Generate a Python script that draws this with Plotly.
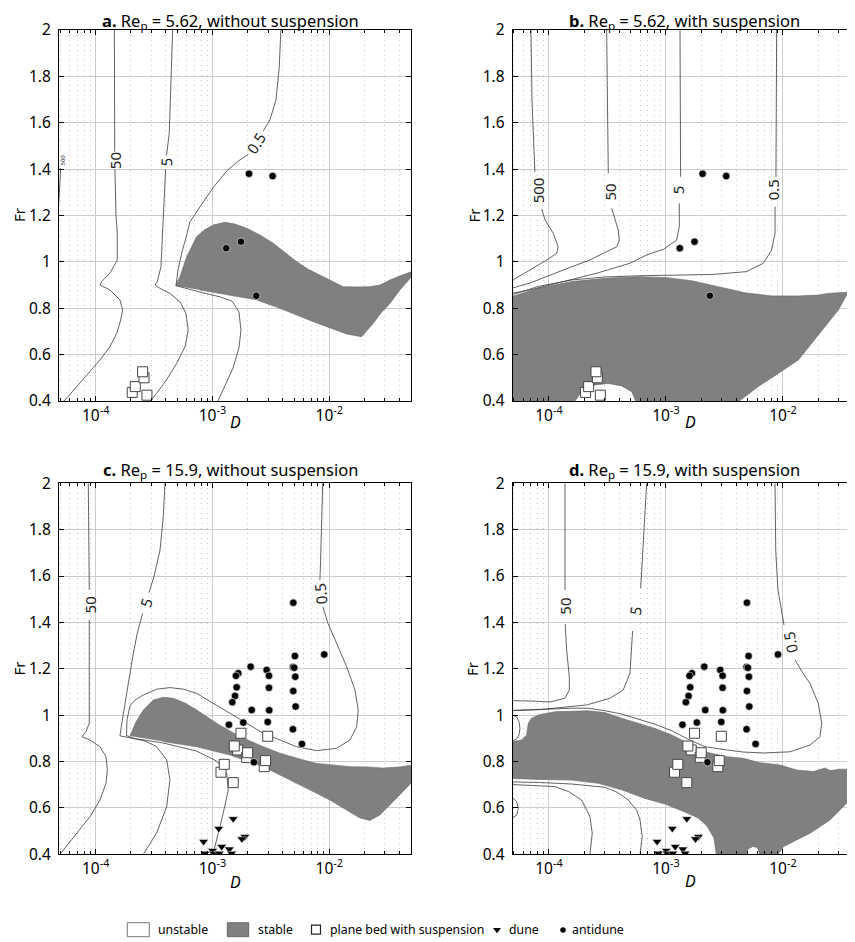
import numpy as np
import plotly.graph_objects as go

# ---------------- experimental points ----------------
# Re_p = 5.62 (panels a, b)
ant1_logD = [-2.687, -2.485, -2.882, -2.756, -2.625]
ant1_Fr = [1.380, 1.370, 1.059, 1.087, 0.854]
pb1_logD = [-3.561, -3.687, -3.661, -3.586, -3.598]
pb1_Fr = [0.425, 0.437, 0.462, 0.500, 0.526]

# Re_p = 15.9 (panels c, d)
ant2_logD = [-2.308, -2.294, -2.043, -2.673, -2.536, -2.516, -2.779, -2.799, -2.311, -2.300,
             -2.291, -2.793, -2.308, -2.516, -2.807, -2.830, -2.288, -2.664, -2.514, -2.736,
             -2.527, -2.859, -2.311, -2.234, -2.645]
ant2_Fr = [1.485, 1.255, 1.262, 1.209, 1.195, 1.170, 1.181, 1.170, 1.208, 1.205,
           1.166, 1.120, 1.104, 1.118, 1.083, 1.056, 1.037, 1.022, 1.021, 0.968,
           0.971, 0.959, 0.939, 0.876, 0.797]
pb2_logD = [-2.784, -2.813, -2.707, -2.699, -2.557, -2.545, -2.756, -2.527, -2.927, -2.899, -2.822]
pb2_Fr = [0.850, 0.867, 0.818, 0.838, 0.778, 0.804, 0.922, 0.909, 0.754, 0.788, 0.709]
dune2_logD = [-2.822, -2.946, -2.722, -2.748, -3.076, -2.921, -2.856, -2.998, -3.064, -2.990, -2.942, -2.836]
dune2_Fr = [0.553, 0.511, 0.476, 0.466, 0.455, 0.433, 0.422, 0.416, 0.404, 0.404, 0.404, 0.404]

# ---------------- panel a: Re_p = 5.62, without suspension ----------------
a_stable_logD = [-3.315, -3.278, -3.221, -3.135, -3.064, -2.993, -2.893, -2.807, -2.707, -2.593,
                 -2.479, -2.379, -2.279, -2.180, -2.080, -1.979, -1.880, -1.754, -1.652, -1.566,
                 -1.480, -1.395, -1.295, -1.295, -1.395, -1.480, -1.557, -1.623, -1.723, -1.851,
                 -1.994, -2.137, -2.279, -2.422, -2.622, -2.850, -3.107]
a_stable_Fr = [0.897, 0.936, 1.022, 1.109, 1.140, 1.159, 1.171, 1.163, 1.145, 1.116,
               1.080, 1.041, 1.001, 0.968, 0.943, 0.915, 0.893, 0.892, 0.893, 0.900,
               0.922, 0.939, 0.958, 0.936, 0.879, 0.821, 0.780, 0.735, 0.677, 0.689,
               0.714, 0.742, 0.771, 0.800, 0.836, 0.857, 0.879]
a_c500_logD = [-4.318, -4.305, -4.299]
a_c500_Fr = [1.24, 1.332, 1.405]
a_c50_logD = [-3.840, -3.837, None, -3.835, -3.826, -3.815, -3.815, -3.878, -3.949, -3.963, -3.878,
              -3.792, -3.769, -3.786, -3.820, -3.878, -3.963, -4.063, -4.163, -4.263, -4.300]
a_c50_Fr = [2.0, 1.475, None, 1.400, 1.202, 1.123, 1.008, 0.951, 0.915, 0.900, 0.879,
            0.836, 0.792, 0.749, 0.692, 0.634, 0.577, 0.519, 0.462, 0.404, 0.39]
a_c5_logD = [-3.341, -3.370, -3.393, None, -3.401, -3.413, -3.427, -3.441, -3.473, -3.490, -3.450,
             -3.364, -3.278, -3.227, -3.207, -3.235, -3.307, -3.393, -3.478, -3.530]
a_c5_Fr = [2.0, 1.554, 1.460, None, 1.400, 1.267, 1.123, 0.979, 0.915, 0.900, 0.886,
           0.864, 0.828, 0.778, 0.706, 0.634, 0.562, 0.491, 0.433, 0.400]
a_c05_logD = [-2.414, -2.428, -2.456, -2.508, -2.565, None, -2.693, -2.779, -2.878, -2.996, -3.107,
              -3.193, -3.227, -3.261, -3.295, -3.312, -3.107, -2.936, -2.833, -2.773, -2.756,
              -2.773, -2.824, -2.893, -2.953]
a_c05_Fr = [2.0, 1.840, 1.698, 1.612, 1.564, None, 1.463, 1.435, 1.392, 1.319, 1.237,
            1.172, 1.103, 1.043, 0.965, 0.897, 0.870, 0.849, 0.831, 0.784, 0.706,
            0.629, 0.542, 0.465, 0.400]

# ---------------- panel b: Re_p = 5.62, with suspension ----------------
b_stable_logD = [-4.33, -4.091, -3.806, -3.521, -3.237, -3.009, -2.780, -2.553, -2.325, -2.097,
                 -1.869, -1.698, -1.613, -1.527, -1.442, -1.527, -1.641, -1.755, -1.869, -2.040,
                 -2.211, -2.400, -3.250, -3.293, -3.379, -3.493, -3.607, -3.721, -3.792, -4.33]
b_stable_Fr = [0.848, 0.886, 0.915, 0.929, 0.936, 0.933, 0.919, 0.893, 0.867, 0.853,
               0.853, 0.857, 0.864, 0.867, 0.869, 0.792, 0.720, 0.649, 0.577, 0.519,
               0.462, 0.39, 0.39, 0.440, 0.465, 0.476, 0.469, 0.440, 0.39, 0.39]
b_c500_logD = [-4.154, -4.145, -4.128, -4.120, None, -4.062, -4.034, -3.963, -3.921, -3.934,
               -4.020, -4.162, -4.320]
b_c500_Fr = [2.0, 1.698, 1.482, 1.388, None, 1.228, 1.181, 1.123, 1.065, 1.037,
             1.008, 0.965, 0.919]
b_c50_logD = [-3.507, -3.500, -3.493, None, -3.464, -3.436, -3.408, -3.399, -3.421, -3.536,
              -3.650, -3.821, -4.020, -4.162, -4.320]
b_c50_Fr = [2.0, 1.60, 1.382, None, 1.231, 1.181, 1.138, 1.094, 1.065, 1.037,
            1.008, 0.976, 0.935, 0.909, 0.886]
b_c5_logD = [-2.880, -2.878, -2.875, None, -2.886, -2.886, -2.909, -3.023, -3.165, -3.308,
             -3.592, -3.878, -4.162, -4.320]
b_c5_Fr = [2.0, 1.60, 1.367, None, 1.253, 1.152, 1.094, 1.054, 1.030, 0.994,
           0.951, 0.915, 0.879, 0.864]
b_c05_logD = [-2.054, -2.057, -2.060, None, -2.068, -2.068, -2.097, -2.168, -2.310, -2.596,
              -2.880, -3.165, -3.521, -3.806, -4.091, -4.320]
b_c05_Fr = [2.0, 1.60, 1.367, None, 1.238, 1.123, 1.051, 0.994, 0.958, 0.946,
            0.943, 0.941, 0.935, 0.922, 0.894, 0.857]

# ---------------- panel c: Re_p = 15.9, without suspension ----------------
c_stable_logD = [-3.706, -3.655, -3.592, -3.507, -3.421, -3.336, -3.235, -3.135, -2.964, -2.764,
                 -2.565, -2.422, -2.223, -2.108, -1.823, -1.680, -1.538, -1.395, -1.29,
                 -1.29, -1.395, -1.480, -1.566, -1.652, -1.737, -1.823, -1.994, -2.279, -2.565,
                 -2.850, -3.135, -3.421]
c_stable_Fr = [0.910, 0.971, 1.022, 1.065, 1.077, 1.073, 1.052, 1.022, 0.965, 0.907,
               0.864, 0.836, 0.807, 0.792, 0.778, 0.777, 0.772, 0.777, 0.785,
               0.712, 0.657, 0.613, 0.570, 0.546, 0.557, 0.582, 0.634, 0.706, 0.778,
               0.828, 0.864, 0.886]
c_c50_logD = [-4.063, -4.055, None, -4.055, -4.055, -4.083, -4.117, -4.049, -3.963, -3.912,
              -3.900, -3.912, -3.963, -4.049, -4.163, -4.306]
c_c50_Fr = [2.0, 1.540, None, 1.411, 0.965, 0.929, 0.907, 0.893, 0.864, 0.821,
            0.764, 0.706, 0.634, 0.562, 0.491, 0.400]
c_c5_logD = [-3.407, -3.421, -3.449, -3.501, -3.544, None, -3.598, -3.644, -3.683, -3.721,
             -3.758, -3.781, -3.792, -3.706, -3.578, -3.478, -3.392, -3.364, -3.392, -3.478, -3.592]
c_c5_Fr = [2.0, 1.856, 1.712, 1.597, 1.528, None, 1.439, 1.353, 1.252, 1.137,
           1.037, 0.950, 0.911, 0.902, 0.889, 0.864, 0.807, 0.722, 0.605, 0.492, 0.400]
c_c05_logD = [-2.056, -2.062, -2.074, -2.080, None, -2.054, -2.011, -1.937, -1.851, -1.780,
              -1.752, -1.765, -1.823, -1.937, -2.108, -2.279, -2.450, -2.565, -2.707, -2.850,
              -2.993, -3.135, -3.250, -3.364, -3.478, -3.592, -3.664, -3.706, -3.732, -3.736,
              -3.664, -3.421, -3.135, -2.964, -2.878, -2.865, -2.908, -2.993, -3.01]
c_c05_Fr = [2.0, 1.842, 1.669, 1.583, None, 1.467, 1.396, 1.310, 1.209, 1.109,
            1.022, 0.950, 0.893, 0.857, 0.847, 0.864, 0.897, 0.922, 0.965, 1.008,
            1.051, 1.094, 1.112, 1.119, 1.112, 1.087, 1.065, 1.040, 0.980, 0.912,
            0.899, 0.880, 0.845, 0.802, 0.749, 0.677, 0.577, 0.404, 0.39]

# ---------------- panel d: Re_p = 15.9, with suspension ----------------
d_stable_logD = [-4.376, -4.310, -4.233, -4.191, -4.177, -4.148, -4.091, -3.949, -3.664, -3.521,
                 -3.379, -3.237, -3.094, -2.951, -2.809, -2.667, -2.481, -2.339, -2.197, -2.026,
                 -1.883, -1.741, -1.641, -1.598, -1.513, -1.30,
                 -1.30, -1.376, -1.456, -1.541, -1.598, -1.684, -1.769, -1.883, -1.997, -2.054,
                 -2.197, -2.214, -2.256, -2.299, -2.325, -2.567,
                 -2.590, -2.650, -2.726, -2.838, -3.009, -3.179, -3.379, -3.579, -3.806, -4.091,
                 -4.310, -4.376]
d_stable_Fr = [0.886, 0.886, 0.893, 0.915, 0.965, 0.987, 1.001, 1.015, 1.019, 1.011,
               0.987, 0.965, 0.943, 0.915, 0.879, 0.842, 0.821, 0.814, 0.795, 0.785,
               0.764, 0.757, 0.772, 0.761, 0.767, 0.767,
               0.690, 0.656, 0.620, 0.577, 0.548, 0.519, 0.491, 0.462, 0.433, 0.39,
               0.39, 0.428, 0.434, 0.423, 0.39, 0.39,
               0.470, 0.522, 0.557, 0.582, 0.617, 0.641, 0.678, 0.706, 0.720, 0.723,
               0.728, 0.728]
d_c50_logD = [-3.863, -3.863, None, -3.861, -3.849, -3.826, -3.826, -3.863, -3.991, -4.162, -4.320]
d_c50_Fr = [2.0, 1.540, None, 1.393, 1.281, 1.166, 1.109, 1.073, 1.057, 1.061, 1.063]
d_c5_logD = [-3.165, -3.194, -3.216, None, -3.285, -3.293, -3.308, -3.365, -3.479, -3.678,
             -3.906, -4.077, -4.320]
d_c5_Fr = [2.0, 1.712, 1.548, None, 1.363, 1.281, 1.181, 1.109, 1.073, 1.044,
           1.031, 1.024, 1.020]
d_c05_logD = [-2.068, -2.062, -2.043, -2.017, -1.991, None, -1.897, -1.829, -1.769, -1.698,
              -1.669, -1.684, -1.769, -1.940, -2.168, -2.339, -2.481, -2.667, -2.809, -2.951,
              -3.094, -3.237, -3.379, -3.521, -3.664, -3.806, -4.091, -4.320]
d_c05_Fr = [2.0, 1.712, 1.540, 1.454, 1.389, None, 1.238, 1.181, 1.137, 1.051,
            0.965, 0.907, 0.871, 0.842, 0.837, 0.841, 0.850, 0.864, 0.896, 0.933,
            0.961, 0.982, 1.005, 1.019, 1.030, 1.030, 1.025, 1.020]
d_other_logD = [-4.320, -4.091, -3.806, -3.521, -3.420, -3.322, -3.250, -3.222, -3.203, -3.222, None,
                -4.320, -4.091, -3.949, -3.830, -3.721, -3.650, -3.630, -3.650, None,
                -4.320, -4.276, -4.262, -4.276, -4.320, None,
                -4.320, -4.276, -4.256, -4.248, -4.256, -4.280, -4.320]
d_other_Fr = [0.712, 0.710, 0.703, 0.689, 0.668, 0.634, 0.590, 0.548, 0.476, 0.399, None,
              0.701, 0.697, 0.692, 0.670, 0.634, 0.562, 0.491, 0.399, None,
              0.648, 0.627, 0.598, 0.569, 0.555, None,
              1.001, 0.993, 0.972, 0.943, 0.915, 0.896, 0.888]

# contour labels: (text, logD, Fr, angle, size)
a_labels = [("500", -4.276, 1.439, -90, 6), ("50", -3.836, 1.438, -90, 15),
            ("5", -3.396, 1.430, -88, 15), ("0.5", -2.629, 1.514, -57, 15)]
b_labels = [("500", -4.091, 1.310, -90, 15), ("50", -3.479, 1.303, -90, 15),
            ("5", -2.895, 1.310, -90, 15), ("0.5", -2.083, 1.310, -90, 15)]
c_labels = [("50", -4.052, 1.476, -90, 15), ("5", -3.569, 1.484, -73, 15),
            ("0.5", -2.071, 1.525, -95, 15)]
d_labels = [("50", -3.863, 1.468, -90, 15), ("5", -3.259, 1.452, -80, 15),
            ("0.5", -1.940, 1.316, -100, 15)]

titles = ["<b>a.</b> Re<sub>p</sub> = 5.62, without suspension",
          "<b>b.</b> Re<sub>p</sub> = 5.62, with suspension",
          "<b>c.</b> Re<sub>p</sub> = 15.9, without suspension",
          "<b>d.</b> Re<sub>p</sub> = 15.9, with suspension"]
xtick_vals = [1e-4, 1e-3, 1e-2]
xtick_text = ["10<sup>-4</sup>", "10<sup>-3</sup>", "10<sup>-2</sup>"]
legend_labels = ["unstable", "stable", "plane bed with suspension", "dune", "antidune"]


def D(vals):
    return [None if v is None else 10 ** v for v in vals]


W, H = 855, 942
OFF = 8  # page body margin: figure origin sits 8 px right/down in the window
FONT = "Noto Sans"
GRAY = "#808080"
LINE = "#3a3a3a"


def fx(px):
    return (px - OFF) / W


def fy(py):
    return 1 - (py - OFF) / H


fig = go.Figure()

panels = [
    dict(n="", stable=(a_stable_logD, a_stable_Fr),
         contours=[(a_c500_logD, a_c500_Fr), (a_c50_logD, a_c50_Fr), (a_c5_logD, a_c5_Fr), (a_c05_logD, a_c05_Fr)],
         labels=a_labels, pts=1),
    dict(n="2", stable=(b_stable_logD, b_stable_Fr),
         contours=[(b_c500_logD, b_c500_Fr), (b_c50_logD, b_c50_Fr), (b_c5_logD, b_c5_Fr), (b_c05_logD, b_c05_Fr)],
         labels=b_labels, pts=1),
    dict(n="3", stable=(c_stable_logD, c_stable_Fr),
         contours=[(c_c50_logD, c_c50_Fr), (c_c5_logD, c_c5_Fr), (c_c05_logD, c_c05_Fr)],
         labels=c_labels, pts=2),
    dict(n="4", stable=(d_stable_logD, d_stable_Fr),
         contours=[(d_c50_logD, d_c50_Fr), (d_c5_logD, d_c5_Fr), (d_c05_logD, d_c05_Fr), (d_other_logD, d_other_Fr)],
         labels=d_labels, pts=2),
]

annotations = []
for p in panels:
    xa, ya = "x" + p["n"], "y" + p["n"]
    lx, ly = p["stable"]
    fig.add_trace(go.Scatter(x=D(lx), y=ly, mode="lines", fill="toself", fillcolor=GRAY,
                             line=dict(color="#666666", width=0.6), xaxis=xa, yaxis=ya,
                             showlegend=False, hoverinfo="skip"))
    for cx, cy in p["contours"]:
        fig.add_trace(go.Scatter(x=D(cx), y=cy, mode="lines", line=dict(color=LINE, width=0.8),
                                 xaxis=xa, yaxis=ya, showlegend=False, hoverinfo="skip",
                                 connectgaps=False))
    if p["pts"] == 1:
        sq, sqy, dots, dotsy, dn, dny = pb1_logD, pb1_Fr, ant1_logD, ant1_Fr, [], []
    else:
        sq, sqy, dots, dotsy, dn, dny = pb2_logD, pb2_Fr, ant2_logD, ant2_Fr, dune2_logD, dune2_Fr
    fig.add_trace(go.Scatter(x=D(sq), y=sqy, mode="markers", xaxis=xa, yaxis=ya, showlegend=False,
                             marker=dict(symbol="square", size=10, color="white",
                                         line=dict(color="#444444", width=1))))
    fig.add_trace(go.Scatter(x=D(dots), y=dotsy, mode="markers", xaxis=xa, yaxis=ya, showlegend=False,
                             marker=dict(symbol="circle", size=7.5, color="black",
                                         line=dict(color="white", width=0.6))))
    if dn:
        fig.add_trace(go.Scatter(x=D(dn), y=dny, mode="markers", xaxis=xa, yaxis=ya, showlegend=False,
                                 marker=dict(symbol="triangle-down", size=8.5, color="black",
                                             line=dict(color="white", width=0.5))))
    for txt, lxv, lyv, ang, sz in p["labels"]:
        annotations.append(dict(text=txt, x=lxv, y=lyv, xref=xa, yref=ya, showarrow=False,
                                textangle=ang, font=dict(size=sz, color="#222222", family=FONT)))

# ---------------- axes ----------------
minor_vals = [m * 10.0 ** e for e in range(-5, -1) for m in range(2, 10)]
left_dom = [fx(59), fx(411)]
right_dom = [fx(512.7), 1.0]
top_dom = [fy(401), fy(30)]
bot_dom = [fy(854.3), fy(483.3)]
ranges_left = [-4.314, -1.300]
ranges_right = [-4.310, -1.316]

axis_cfg = [("", left_dom, top_dom, ranges_left, True),
            ("2", right_dom, top_dom, ranges_right, False),
            ("3", left_dom, bot_dom, ranges_left, True),
            ("4", right_dom, bot_dom, ranges_right, False)]
for n, xd, yd, xr, left in axis_cfg:
    fig.update_layout({
        "xaxis" + n: dict(type="log", domain=xd, range=xr, anchor="y" + n, automargin=False,
                          showline=True, linecolor="black", linewidth=1, mirror="ticks",
                          ticks="inside", ticklen=5, tickcolor="black",
                          tickmode="array", tickvals=xtick_vals, ticktext=xtick_text,
                          showgrid=True, gridcolor="#cccccc", gridwidth=1, zeroline=False,
                          tickfont=dict(size=15.5, family=FONT, color="black"),
                          minor=dict(tickmode="array", tickvals=minor_vals, ticks="inside",
                                     ticklen=3, tickcolor="black", showgrid=True,
                                     gridcolor="#c6c6c6", griddash="1px,4px", gridwidth=1),
                          fixedrange=True),
        "yaxis" + n: dict(domain=yd, range=[0.4, 2.0], anchor="x" + n, automargin=False,
                          showline=True, linecolor="black", linewidth=1,
                          mirror="ticks" if left else False,
                          ticks="inside", ticklen=5, tickcolor="black",
                          tick0=0.4, dtick=0.2, showgrid=True, gridcolor="#cccccc",
                          gridwidth=1, zeroline=False,
                          tickfont=dict(size=15.5, family=FONT, color="black"),
                          ticklabelstandoff=4, fixedrange=True),
    })

# overlay axes in window-pixel units (for titles and the legend)
fig.update_layout(
    xaxis5=dict(domain=[0, 1], range=[OFF, OFF + W], visible=False, anchor="y5",
                fixedrange=True, automargin=False),
    yaxis5=dict(domain=[0, 1], range=[OFF + H, OFF], visible=False, anchor="x5",
                fixedrange=True, automargin=False),
)

# titles
for txt, cx, cy in zip(titles, [230, 684, 230, 684], [OFF, OFF, 457, 457]):
    annotations.append(dict(text=txt, x=cx, y=cy, xref="x5", yref="y5", yanchor="top",
                            showarrow=False, borderpad=0,
                            font=dict(size=16.5, family=FONT, color="black")))
# axis titles
for cx, cy in [(235, 422), (690, 422), (235, 882), (690, 881)]:
    annotations.append(dict(text="<i>D</i>", x=cx, y=cy, xref="x5", yref="y5", showarrow=False,
                            font=dict(size=16, family=FONT, color="black")))
for cx, cy in [(18.5, 215.5), (473, 215.5), (18.5, 669), (472, 669)]:
    annotations.append(dict(text="Fr", x=cx, y=cy, xref="x5", yref="y5", showarrow=False,
                            textangle=-90, borderpad=0,
                            font=dict(size=15, family=FONT, color="black")))

# legend
shapes = [
    dict(type="rect", xref="x5", yref="y5", x0=127.3, x1=149.3, y0=922.7, y1=936.7,
         fillcolor="white", line=dict(color="#555555", width=0.8)),
    dict(type="rect", xref="x5", yref="y5", x0=227.3, x1=248.7, y0=922.7, y1=936.7,
         fillcolor=GRAY, line=dict(color="#555555", width=0.8)),
]
fig.add_trace(go.Scatter(x=[316], y=[929.7], xaxis="x5", yaxis="y5", mode="markers", showlegend=False,
                         marker=dict(symbol="square", size=9, color="white", line=dict(color="#222", width=1.2))))
fig.add_trace(go.Scatter(x=[497], y=[929.7], xaxis="x5", yaxis="y5", mode="markers", showlegend=False,
                         marker=dict(symbol="triangle-down", size=7, color="black")))
fig.add_trace(go.Scatter(x=[563], y=[930], xaxis="x5", yaxis="y5", mode="markers", showlegend=False,
                         marker=dict(symbol="circle", size=5.5, color="black")))
for txt, lx in zip(legend_labels, [156, 255.7, 327.7, 506.7, 570]):
    annotations.append(dict(text=txt, x=lx, y=929.7, xref="x5", yref="y5", xanchor="left",
                            showarrow=False, font=dict(size=12.3, family=FONT, color="black")))

fig.update_layout(width=W, height=H, margin=dict(l=0, r=0, t=0, b=0, autoexpand=False),
                  paper_bgcolor="white", plot_bgcolor="rgba(0,0,0,0)",
                  font=dict(family=FONT, color="black"), showlegend=False,
                  annotations=annotations, shapes=shapes)

fig.write_html("out.html")
